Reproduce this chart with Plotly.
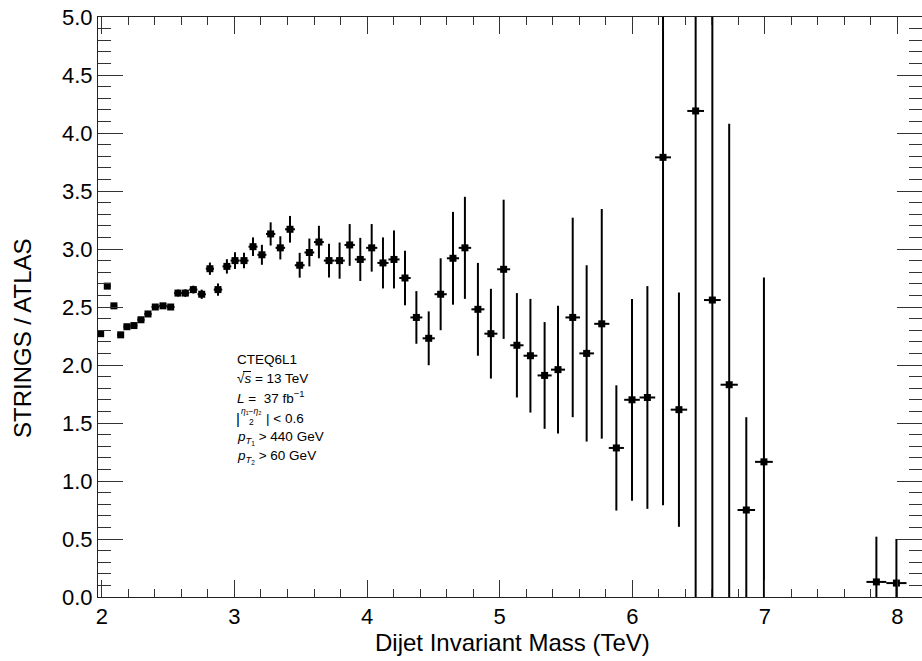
import plotly.graph_objects as go

# Dijet invariant mass bin centres (TeV)
mass = [1.991, 2.041, 2.091, 2.142, 2.189, 2.242, 2.295, 2.348, 2.403, 2.461,
        2.519, 2.574, 2.630, 2.690, 2.753, 2.815, 2.876, 2.943, 3.004, 3.072,
        3.140, 3.207, 3.273, 3.346, 3.419, 3.492, 3.565, 3.637, 3.713, 3.793,
        3.869, 3.949, 4.035, 4.120, 4.203, 4.286, 4.372, 4.465, 4.555, 4.648,
        4.738, 4.836, 4.934, 5.030, 5.130, 5.232, 5.339, 5.440, 5.551, 5.656,
        5.770, 5.880, 5.998, 6.114, 6.232, 6.352, 6.478, 6.604, 6.731, 6.860,
        6.993, 7.841, 7.992]

# STRINGS / ATLAS ratio
ratio = [2.27, 2.68, 2.51, 2.26, 2.33, 2.34, 2.39, 2.44, 2.50, 2.51,
         2.50, 2.62, 2.62, 2.65, 2.61, 2.83, 2.65, 2.85, 2.90, 2.90,
         3.02, 2.95, 3.13, 3.01, 3.17, 2.86, 2.97, 3.06, 2.90, 2.90,
         3.035, 2.91, 3.01, 2.88, 2.91, 2.75, 2.41, 2.23, 2.61, 2.92,
         3.01, 2.48, 2.27, 2.825, 2.17, 2.08, 1.91, 1.96, 2.41, 2.10,
         2.355, 1.285, 1.70, 1.72, 3.79, 1.615, 4.19, 2.56, 1.83, 0.75,
         1.165, 0.13, 0.12]

# vertical uncertainties
ratio_err = [0.01, 0.012, 0.012, 0.012, 0.013, 0.014, 0.015, 0.016, 0.018, 0.02,
             0.022, 0.03, 0.033, 0.034, 0.04, 0.053, 0.053, 0.062, 0.072, 0.067,
             0.08, 0.086, 0.10, 0.10, 0.115, 0.107, 0.12, 0.14, 0.146, 0.156,
             0.18, 0.186, 0.205, 0.22, 0.25, 0.235, 0.227, 0.232, 0.31, 0.40,
             0.44, 0.40, 0.387, 0.60, 0.45, 0.49, 0.46, 0.55, 0.86, 0.76,
             0.99, 0.54, 0.87, 0.96, 3.0, 1.01, 4.3, 2.65, 2.25, 0.80,
             1.59, 0.39, 0.38]

# horizontal half bin widths (TeV)
mass_err = [0.025, 0.025, 0.025, 0.025, 0.026, 0.026, 0.027, 0.027, 0.028, 0.029,
            0.029, 0.029, 0.030, 0.031, 0.031, 0.031, 0.032, 0.033, 0.033, 0.034,
            0.034, 0.034, 0.035, 0.036, 0.037, 0.037, 0.037, 0.037, 0.039, 0.039,
            0.039, 0.041, 0.042, 0.042, 0.042, 0.043, 0.045, 0.046, 0.046, 0.046,
            0.047, 0.049, 0.049, 0.049, 0.050, 0.052, 0.053, 0.053, 0.055, 0.055,
            0.057, 0.057, 0.059, 0.059, 0.060, 0.062, 0.063, 0.063, 0.065, 0.066,
            0.067, 0.075, 0.076]

x_ticks = [2, 3, 4, 5, 6, 7, 8]
y_ticks = [0.0, 0.5, 1.0, 1.5, 2.0, 2.5, 3.0, 3.5, 4.0, 4.5, 5.0]

FONT = "Liberation Sans, Arial, Helvetica, sans-serif"
W, H = 922, 661
L_M, R_M, T_M, B_M = 98, 0, 17, 64
PW, PH = W - L_M - R_M, H - T_M - B_M


def px(xp):
    return (xp - L_M) / PW


def py(yp):
    return (H - B_M - yp) / PH


fig = go.Figure()
fig.add_trace(go.Scatter(
    x=mass, y=ratio, mode="markers",
    marker=dict(symbol="square", size=7, color="black"),
    error_y=dict(type="data", array=ratio_err, color="black", thickness=2, width=0),
    error_x=dict(type="data", array=mass_err, color="black", thickness=2, width=0),
    cliponaxis=True, showlegend=False, hoverinfo="x+y",
))

axis_common = dict(
    showgrid=False, zeroline=False, showline=True, linecolor="#222222", linewidth=1,
    mirror="ticks", ticks="inside", tickcolor="#333333", tickwidth=1,
    tickfont=dict(family=FONT, size=22, color="black"),
)

fig.update_xaxes(
    range=[1.971, 8.185], tickvals=x_ticks, ticktext=[str(v) for v in x_ticks],
    ticklen=17, minor=dict(dtick=0.2, tick0=2, ticklen=8, ticks="inside",
                           tickcolor="#333333", tickwidth=1),
    **axis_common,
)
fig.update_yaxes(
    range=[0, 5], tickvals=y_ticks, ticktext=[f"{v:.1f}" for v in y_ticks],
    ticklen=25, minor=dict(dtick=0.1, tick0=0, ticklen=13, ticks="inside",
                           tickcolor="#333333", tickwidth=1),
    **axis_common,
)

ann = []
# axis titles
ann.append(dict(text="Dijet Invariant Mass (TeV)", x=px(512), y=py(642), xref="paper", yref="paper",
                xanchor="center", yanchor="middle", showarrow=False,
                font=dict(family=FONT, size=24, color="black")))
ann.append(dict(text="STRINGS / ATLAS", x=px(23), y=py(338), xref="paper", yref="paper",
                xanchor="center", yanchor="middle", textangle=-90, showarrow=False,
                font=dict(family=FONT, size=24, color="black")))

tf = dict(family=FONT, size=13.5, color="black")
x0 = 235
lines = [
    ("CTEQ6L1", 359),
    ("√<i>s</i> = 13 TeV", 378),
    ("<i>L</i> =  37 fb<sup>−1</sup>", 397),
    ("<i>p</i><sub><i>T</i><sub>1</sub></sub> > 440 GeV", 438),
    ("<i>p</i><sub><i>T</i><sub>2</sub></sub> > 60 GeV", 457),
]
for t, yy in lines:
    ann.append(dict(text=t, x=px(x0), y=py(yy), xref="paper", yref="paper",
                    xanchor="left", yanchor="middle", showarrow=False, font=tf))
# |(eta1 - eta2)/2| < 0.6 with a stacked fraction
ann.append(dict(text="|", x=px(234), y=py(418), xref="paper", yref="paper",
                xanchor="left", yanchor="middle", showarrow=False,
                font=dict(family=FONT, size=15, color="black")))
ann.append(dict(text="<i>η</i>₁−<i>η</i>₂<br>2", x=px(251.5), y=py(416.5),
                xref="paper", yref="paper", xanchor="center", yanchor="middle",
                showarrow=False, font=dict(family=FONT, size=8.5, color="black")))
ann.append(dict(text="| < 0.6", x=px(264), y=py(418), xref="paper", yref="paper",
                xanchor="left", yanchor="middle", showarrow=False,
                font=dict(family=FONT, size=13.5, color="black")))

# overline of the square root sign over s
shapes = [dict(type="line", xref="paper", yref="paper",
               x0=px(243), x1=px(251), y0=py(371.5), y1=py(371.5),
               line=dict(color="black", width=1))]

fig.update_layout(
    width=W, height=H, margin=dict(l=L_M, r=R_M, t=T_M, b=B_M, pad=0),
    paper_bgcolor="white", plot_bgcolor="white",
    font=dict(family=FONT, color="black"),
    annotations=ann, shapes=shapes, showlegend=False,
)

fig.write_html("out.html")
